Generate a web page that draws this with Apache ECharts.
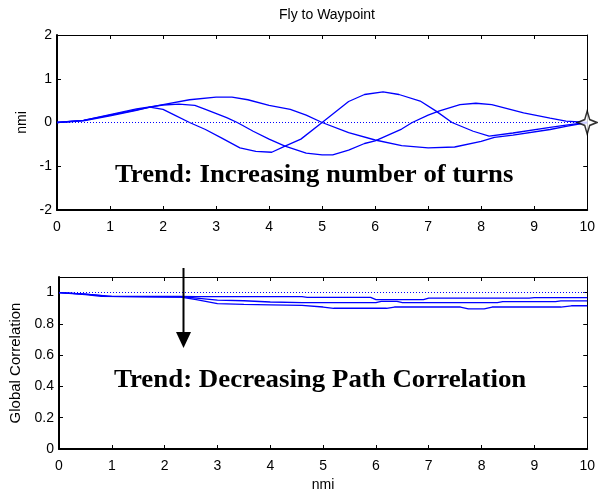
<!DOCTYPE html>
<html>
<head>
<meta charset="utf-8">
<script src="https://cdn.jsdelivr.net/npm/echarts@6/dist/echarts.min.js"></script>
<style>
  html, body { margin: 0; padding: 0; background: #fff; }
  #chart { width: 598px; height: 493px; }
</style>
</head>
<body>
<div id="chart"></div>
<script>
// Cross-track offset (nmi) of three flight paths against along-track distance (nmi)
const oneTurnX = [0, 0.5, 1, 1.5, 2, 2.5, 3, 3.3, 3.6, 4, 4.4, 4.7, 5, 5.5, 6, 6.5, 7, 7.5, 8, 8.25, 8.6, 9.3, 9.6, 10];
const oneTurnY = [0, 0.05, 0.17, 0.29, 0.41, 0.52, 0.58, 0.58, 0.52, 0.39, 0.30, 0.17, 0, -0.23, -0.40, -0.53, -0.58, -0.56, -0.43, -0.34, -0.29, -0.16, -0.09, 0];

const twoTurnX = [0, 0.5, 1, 1.5, 2, 2.3, 2.6, 2.8, 3.2, 3.4, 3.7, 4, 4.3, 4.7, 5, 5.2, 5.5, 5.8, 6, 6.5, 6.7, 7, 7.2, 7.6, 7.9, 8.2, 8.8, 9.3, 9.6, 10];
const twoTurnY = [0, 0.05, 0.18, 0.31, 0.40, 0.42, 0.39, 0.30, 0.11, 0, -0.2, -0.38, -0.54, -0.70, -0.74, -0.74, -0.63, -0.48, -0.42, -0.15, 0, 0.17, 0.26, 0.41, 0.44, 0.41, 0.22, 0.10, 0.03, 0];

const threeTurnX = [0, 0.5, 1, 1.5, 1.75, 2, 2.2, 2.5, 2.8, 3.1, 3.45, 3.75, 4.05, 4.3, 4.6, 5, 5.5, 5.8, 6.15, 6.45, 6.85, 7.15, 7.45, 7.85, 8.15, 8.6, 9.3, 9.6, 10];
const threeTurnY = [0, 0.04, 0.15, 0.28, 0.35, 0.30, 0.18, 0, -0.16, -0.35, -0.58, -0.66, -0.68, -0.54, -0.38, 0, 0.48, 0.64, 0.70, 0.64, 0.49, 0.26, 0, -0.2, -0.31, -0.24, -0.11, -0.06, 0];

// Waypoint position (nmi)
const waypoint = [10, 0];

// Global path correlation against along-track distance (nmi)
const corrHighX = [0, 0.5, 0.9, 2.3, 2.6, 4.6, 4.7, 5.9, 6.0, 6.9, 7.0, 8.9, 9.0, 10];
const corrHighY = [1, 0.99, 0.978, 0.976, 0.975, 0.975, 0.97, 0.97, 0.955, 0.955, 0.965, 0.965, 0.968, 0.968];

const corrMidX = [0, 0.5, 1, 2.4, 2.7, 3, 3.5, 4, 4.6, 6.0, 6.1, 6.4, 6.5, 8.3, 8.4, 9.4, 9.5, 10];
const corrMidY = [1, 0.99, 0.976, 0.972, 0.962, 0.952, 0.948, 0.94, 0.936, 0.936, 0.944, 0.944, 0.936, 0.936, 0.942, 0.942, 0.947, 0.947];

const corrLowX = [0, 0.5, 0.8, 2.3, 2.6, 3, 3.5, 4, 4.6, 5.0, 5.2, 6.2, 6.35, 7.6, 7.75, 8.05, 8.2, 9.5, 9.7, 10];
const corrLowY = [1, 0.988, 0.976, 0.972, 0.955, 0.93, 0.925, 0.922, 0.918, 0.908, 0.90, 0.90, 0.908, 0.908, 0.896, 0.896, 0.908, 0.908, 0.916, 0.916];

// Reference levels drawn as dotted lines
const offsetReference = 0;
const corrReference = 1;

const zip = (xs, ys) => xs.map((x, i) => [x, ys[i]]);

const BLUE = '#0000ff';
const FONT = 'Liberation Sans';

function xAxisPair(grid, name) {
  const common = {
    gridIndex: grid, type: 'value', min: 0, max: 10, interval: 1,
    splitLine: { show: false },
    axisTick: { inside: true, length: 4, lineStyle: { color: '#000', width: 1 } }
  };
  return [
    Object.assign({}, common, {
      position: 'bottom',
      axisLine: { onZero: false, lineStyle: { color: '#000', width: 2 } },
      axisLabel: { color: '#000', fontSize: 14, fontFamily: FONT, margin: 10 },
      name: name || '',
      nameLocation: 'middle', nameGap: 29,
      nameTextStyle: { color: '#000', fontSize: 14, fontFamily: FONT }
    }),
    Object.assign({}, common, {
      position: 'top',
      axisLine: { onZero: false, lineStyle: { color: '#000', width: 1 } },
      axisLabel: { show: false }
    })
  ];
}

function yAxisPair(grid, min, max, interval, name, nameGap, nameSize) {
  const common = {
    gridIndex: grid, type: 'value', min: min, max: max, interval: interval,
    splitLine: { show: false },
    axisTick: { inside: true, length: 4, lineStyle: { color: '#000', width: 1 } }
  };
  return [
    Object.assign({}, common, {
      position: 'left',
      axisLine: { onZero: false, lineStyle: { color: '#000', width: 2 } },
      axisLabel: { color: '#000', fontSize: 14, fontFamily: FONT, margin: 5, showMaxLabel: max === 2 },
      name: name, nameLocation: 'middle', nameGap: nameGap, nameRotate: 90,
      nameTextStyle: { color: '#000', fontSize: nameSize, fontFamily: FONT }
    }),
    Object.assign({}, common, {
      position: 'right',
      axisLine: { onZero: false, lineStyle: { color: '#000', width: 1 } },
      axisLabel: { show: false }
    })
  ];
}

function pathLine(xs, ys, xi, yi, extra) {
  return Object.assign({
    type: 'line', xAxisIndex: xi, yAxisIndex: yi,
    data: zip(xs, ys), showSymbol: false, symbol: 'none',
    lineStyle: { color: BLUE, width: 1.3 }, silent: true, z: 3
  }, extra || {});
}

function refLine(level) {
  return {
    silent: true, symbol: 'none', label: { show: false },
    lineStyle: { color: BLUE, width: 1, type: [1, 2] },
    data: [{ yAxis: level }]
  };
}

const chart = echarts.init(document.getElementById('chart'), null, { renderer: 'canvas' });

chart.setOption({
  animation: false,
  backgroundColor: '#fff',
  title: {
    text: 'Fly to Waypoint', left: 322, top: 3, textAlign: 'center',
    textStyle: { color: '#000', fontSize: 14, fontWeight: 'normal', fontFamily: FONT }
  },
  grid: [
    { left: 57, right: 10, top: 35, height: 175 },
    { left: 57, right: 10, top: 277, height: 175 }
  ],
  xAxis: [].concat(xAxisPair(0), xAxisPair(1, 'nmi')),
  yAxis: [].concat(
    yAxisPair(0, -2, 2, 1, 'nmi', 27, 14),
    yAxisPair(1, 0, 1.1, 0.2, 'Global Correlation', 36, 15)
  ),
  series: [
    pathLine(oneTurnX, oneTurnY, 0, 0, { markLine: refLine(offsetReference) }),
    pathLine(twoTurnX, twoTurnY, 0, 0),
    pathLine(threeTurnX, threeTurnY, 0, 0),
    {
      type: 'scatter', xAxisIndex: 0, yAxisIndex: 0, data: [waypoint],
      symbol: 'path://M0,-10 L2.6,-2.6 L10,0 L2.6,2.6 L0,10 L-2.6,2.6 L-10,0 L-2.6,-2.6 Z',
      symbolSize: [19, 23], clip: false, silent: true, z: 5,
      itemStyle: { color: '#fff', borderColor: '#000', borderWidth: 1.6 }
    },
    pathLine(corrHighX, corrHighY, 2, 2, { markLine: refLine(corrReference) }),
    pathLine(corrMidX, corrMidY, 2, 2),
    pathLine(corrLowX, corrLowY, 2, 2)
  ],
  graphic: [
    {
      type: 'text', left: 115, top: 163, z: 10, scaleX: 1.07,
      style: {
        text: 'Trend: Increasing number of turns',
        fill: '#000', font: 'bold 25px "Liberation Serif"'
      }
    },
    {
      type: 'text', left: 114, top: 368, z: 10, scaleX: 1.075,
      style: {
        text: 'Trend: Decreasing Path Correlation',
        fill: '#000', font: 'bold 25px "Liberation Serif"'
      }
    },
    {
      type: 'line', z: 10,
      shape: { x1: 183.5, y1: 268, x2: 183.5, y2: 334 },
      style: { stroke: '#000', lineWidth: 2 }
    },
    {
      type: 'polygon', z: 10,
      shape: { points: [[176, 332], [191, 332], [183.5, 348]] },
      style: { fill: '#000' }
    }
  ]
});
</script>
</body>
</html>
